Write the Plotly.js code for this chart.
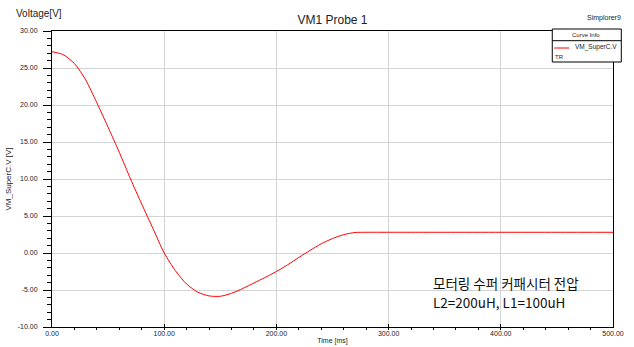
<!DOCTYPE html>
<html>
<head>
<meta charset="utf-8">
<script src="https://cdn.plot.ly/plotly-3.0.1.min.js"></script>
<style>html,body{margin:0;padding:0;background:#fff;}#chart{width:634px;height:347px;}</style>
</head>
<body>
<div id="chart"></div>
<script>
// Data
const timeMs = [0, 10, 20, 30, 40, 50, 60, 70, 80, 90, 100, 110, 120, 130, 140, 150, 160, 170, 180, 190, 200, 210, 220, 230, 240, 250, 260, 270, 280, 300, 350, 400, 450, 500];
const voltage = [27.2, 26.8, 25.6, 23.4, 20.3, 17.0, 13.6, 10.0, 6.6, 3.3, 0.0, -2.4, -4.2, -5.3, -5.8, -5.85, -5.45, -4.8, -4.05, -3.3, -2.5, -1.6, -0.6, 0.35, 1.25, 1.95, 2.48, 2.77, 2.8, 2.8, 2.8, 2.8, 2.8, 2.8];
const xTicks = [0, 100, 200, 300, 400, 500];
const yTicks = [-10, -5, 0, 5, 10, 15, 20, 25, 30];
const traceName = 'VM_SuperC.V';
const chartTitle = 'VM1 Probe 1';
const noteLines = ['모터링 수퍼 커패시터 전압', 'L2=200uH, L1=100uH'];

const F = 'Liberation Sans, Arial, sans-serif';
const trace = {
  x: timeMs, y: voltage, type: 'scatter', mode: 'lines', name: traceName,
  line: {color: '#ff0000', width: 1, shape: 'spline', smoothing: 0.7},
  showlegend: false, hoverinfo: 'skip'
};

function px(x) { return (x - 52) / (634 - 52 - 21.3); }
function py(y) { return (347 - 20 - y) / (347 - 31 - 20); }

const layout = {
  width: 634, height: 347,
  margin: {l: 52, r: 21.3, t: 31, b: 20, pad: 0},
  paper_bgcolor: '#fff', plot_bgcolor: '#fff',
  title: {text: chartTitle, font: {family: F, size: 12, color: '#222'}, x: 0.5, xref: 'paper', xanchor: 'center', y: 1 - 20/347, yanchor: 'middle'},
  xaxis: {
    range: [0, 500], tickvals: xTicks, ticktext: xTicks.map(v => v.toFixed(2)),
    ticks: 'inside', ticklen: 3, tickcolor: '#000', tickwidth: 1,
    minor: {dtick: 20, ticklen: 2, tickcolor: '#000', showgrid: false},
    showline: true, linecolor: '#000', linewidth: 1, mirror: true,
    showgrid: true, gridcolor: '#d4d4d4', gridwidth: 1, zeroline: false,
    tickfont: {family: F, size: 7, color: '#222'},
    title: {text: 'Time [ms]', font: {family: F, size: 7, color: '#222'}, standoff: 1}
  },
  yaxis: {
    range: [-10, 30], tickvals: yTicks, ticktext: yTicks.map(v => v.toFixed(2)),
    ticks: 'outside', ticklen: 8, tickcolor: '#000', tickwidth: 1,
    minor: {dtick: 1, ticklen: 4, tickcolor: '#000', showgrid: false},
    showline: true, linecolor: '#000', linewidth: 1, mirror: true,
    showgrid: true, gridcolor: '#d4d4d4', gridwidth: 1, zeroline: false,
    tickfont: {family: F, size: 7, color: '#222'},
    ticklabelstandoff: 4,
    title: {text: 'VM_SuperC.V [V]', font: {family: F, size: 8, color: '#222'}, standoff: 4}
  },
  shapes: [
    {type: 'rect', xref: 'paper', yref: 'paper', x0: px(552), x1: px(621), y0: py(62), y1: py(29), line: {color: '#000', width: 1}, fillcolor: '#fff', layer: 'above'},
    {type: 'line', xref: 'paper', yref: 'paper', x0: px(552), x1: px(621), y0: py(40.7), y1: py(40.7), line: {color: '#000', width: 1}, layer: 'above'},
    {type: 'line', xref: 'paper', yref: 'paper', x0: px(554), x1: px(569), y0: py(48), y1: py(48), line: {color: '#ff0000', width: 1}, layer: 'above'}
  ],
  annotations: [
    {text: 'Voltage[V]', xref: 'paper', yref: 'paper', x: px(14), y: py(13), xanchor: 'left', yanchor: 'middle', showarrow: false, font: {family: F, size: 10, color: '#222'}},
    {text: 'Simplorer9', xref: 'paper', yref: 'paper', x: px(604), y: py(18), xanchor: 'center', yanchor: 'middle', showarrow: false, font: {family: F, size: 7, color: '#222'}},
    {text: 'Curve Info', xref: 'paper', yref: 'paper', x: px(586), y: py(35), xanchor: 'center', yanchor: 'middle', showarrow: false, font: {family: F, size: 6, color: '#222'}},
    {text: traceName, xref: 'paper', yref: 'paper', x: px(573), y: py(47), xanchor: 'left', yanchor: 'middle', showarrow: false, font: {family: F, size: 6.5, color: '#222'}},
    {text: 'TR', xref: 'paper', yref: 'paper', x: px(553), y: py(57), xanchor: 'left', yanchor: 'middle', showarrow: false, font: {family: F, size: 6, color: '#222'}},
    {text: noteLines[0], xref: 'paper', yref: 'paper', x: px(431), y: py(283), xanchor: 'left', yanchor: 'middle', showarrow: false, font: {family: 'Noto Sans CJK KR, sans-serif', size: 13.5, color: '#111'}},
    {text: noteLines[1], xref: 'paper', yref: 'paper', x: px(431), y: py(302), xanchor: 'left', yanchor: 'middle', showarrow: false, font: {family: 'Noto Sans CJK KR, sans-serif', size: 13.5, color: '#111'}}
  ]
};

Plotly.newPlot('chart', [trace], layout, {staticPlot: true, displayModeBar: false});
</script>
</body>
</html>
